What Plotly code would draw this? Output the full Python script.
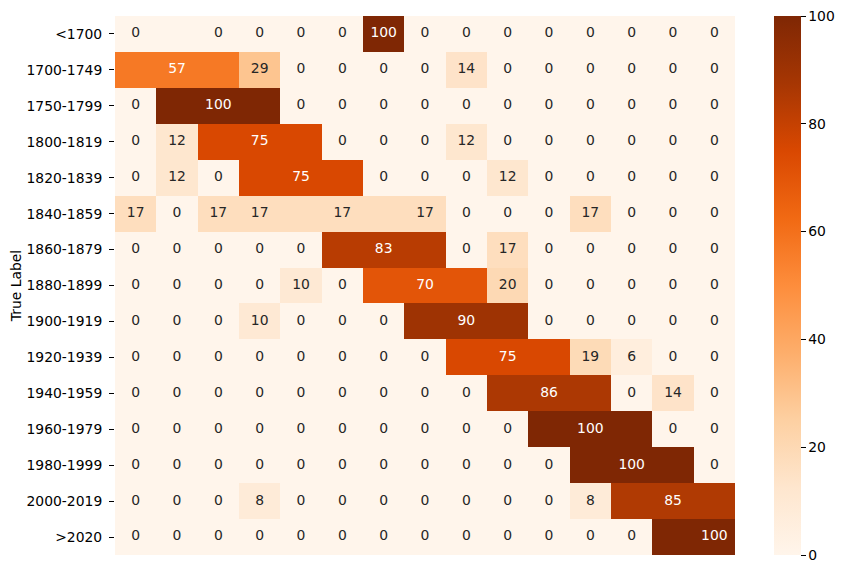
import plotly.graph_objects as go

ROW_LABELS = ['<1700', '1700-1749', '1750-1799', '1800-1819', '1820-1839', '1840-1859',
              '1860-1879', '1880-1899', '1900-1919', '1920-1939', '1940-1959',
              '1960-1979', '1980-1999', '2000-2019', '>2020']

# cell colour values (percent), one list per true-label row
CELL_VALUES = [
    [0, 0, 0, 0, 0, 0, 100, 0, 0, 0, 0, 0, 0, 0, 0],
    [57, 57, 57, 29, 0, 0, 0, 0, 14, 0, 0, 0, 0, 0, 0],
    [0, 100, 100, 100, 0, 0, 0, 0, 0, 0, 0, 0, 0, 0, 0],
    [0, 12, 75, 75, 75, 0, 0, 0, 12, 0, 0, 0, 0, 0, 0],
    [0, 12, 0, 75, 75, 75, 0, 0, 0, 12, 0, 0, 0, 0, 0],
    [17, 0, 17, 17, 17, 17, 17, 17, 0, 0, 0, 17, 0, 0, 0],
    [0, 0, 0, 0, 0, 83, 83, 83, 0, 17, 0, 0, 0, 0, 0],
    [0, 0, 0, 0, 10, 0, 70, 70, 70, 20, 0, 0, 0, 0, 0],
    [0, 0, 0, 10, 0, 0, 0, 90, 90, 90, 0, 0, 0, 0, 0],
    [0, 0, 0, 0, 0, 0, 0, 0, 75, 75, 75, 19, 6, 0, 0],
    [0, 0, 0, 0, 0, 0, 0, 0, 0, 86, 86, 86, 0, 14, 0],
    [0, 0, 0, 0, 0, 0, 0, 0, 0, 0, 100, 100, 100, 0, 0],
    [0, 0, 0, 0, 0, 0, 0, 0, 0, 0, 0, 100, 100, 100, 0],
    [0, 0, 0, 8, 0, 0, 0, 0, 0, 0, 0, 8, 85, 85, 85],
    [0, 0, 0, 0, 0, 0, 0, 0, 0, 0, 0, 0, 0, 100, 100],
]

# annotation texts as printed in the cells ('' = no label shown)
CELL_TEXT = [
    ['0', '', '0', '0', '0', '0', '100', '0', '0', '0', '0', '0', '0', '0', '0'],
    ['', '57', '', '29', '0', '0', '0', '0', '14', '0', '0', '0', '0', '0', '0'],
    ['0', '', '100', '', '0', '0', '0', '0', '0', '0', '0', '0', '0', '0', '0'],
    ['0', '12', '', '75', '', '0', '0', '0', '12', '0', '0', '0', '0', '0', '0'],
    ['0', '12', '0', '', '75', '', '0', '0', '0', '12', '0', '0', '0', '0', '0'],
    ['17', '0', '17', '17', '', '17', '', '17', '0', '0', '0', '17', '0', '0', '0'],
    ['0', '0', '0', '0', '0', '', '83', '', '0', '17', '0', '0', '0', '0', '0'],
    ['0', '0', '0', '0', '10', '0', '', '70', '', '20', '0', '0', '0', '0', '0'],
    ['0', '0', '0', '10', '0', '0', '0', '', '90', '', '0', '0', '0', '0', '0'],
    ['0', '0', '0', '0', '0', '0', '0', '0', '', '75', '', '19', '6', '0', '0'],
    ['0', '0', '0', '0', '0', '0', '0', '0', '0', '', '86', '', '0', '14', '0'],
    ['0', '0', '0', '0', '0', '0', '0', '0', '0', '0', '', '100', '', '0', '0'],
    ['0', '0', '0', '0', '0', '0', '0', '0', '0', '0', '0', '', '100', '', '0'],
    ['0', '0', '0', '8', '0', '0', '0', '0', '0', '0', '0', '8', '', '85', ''],
    ['0', '0', '0', '0', '0', '0', '0', '0', '0', '0', '0', '0', '0', '', '100'],
]

n = len(ROW_LABELS)
cols = list(range(n))
rows = list(range(n))
FONT = 'DejaVu Sans'
FS = 13.9
DARK = '#262626'

fig = go.Figure()
fig.add_trace(go.Heatmap(
    z=CELL_VALUES, x=cols, y=rows,
    colorscale='Oranges', zmin=0, zmax=100,
    hoverinfo='skip',
    colorbar=dict(
        x=(774 - 115) / 620, xanchor='left', xpad=0,
        y=0.5, yanchor='middle', len=1, lenmode='fraction', ypad=0,
        thickness=27, outlinewidth=0,
        tickmode='array', tickvals=[0, 20, 40, 60, 80, 100],
        ticktext=['0', '20', '40', '60', '80', '100'],
        ticklabeloverflow='allow',
        ticks='outside', ticklen=5,
        tickcolor='black', tickfont=dict(family=FONT, size=FS, color='black'),
    ),
))

# cell labels
tx, ty, tt, tc = [], [], [], []
for r in rows:
    for c in cols:
        if CELL_TEXT[r][c] != '':
            tx.append(c)
            ty.append(r)
            tt.append(CELL_TEXT[r][c])
            tc.append('white' if CELL_VALUES[r][c] > 45 else DARK)

fig.add_trace(go.Scatter(
    x=tx, y=ty, text=tt, mode='text',
    textfont=dict(family=FONT, size=FS, color=tc),
    showlegend=False, hoverinfo='skip', cliponaxis=False,
))

# page body has an 8px offset, so margins are shifted accordingly
fig.update_layout(
    width=847, height=573,
    margin=dict(l=107, r=120, t=8, b=26, autoexpand=False),
    paper_bgcolor='white', plot_bgcolor='white',
    font=dict(family=FONT, size=FS, color='black'),
    xaxis=dict(range=[-0.5, n - 0.5], showticklabels=False, showgrid=False,
               zeroline=False, ticks=''),
    yaxis=dict(range=[n - 0.5, -0.5], tickvals=rows, ticktext=ROW_LABELS,
               ticks='outside', ticklen=5, tickcolor='black', showgrid=False,
               zeroline=False, ticklabelstandoff=4,
               title=dict(text='True Label', standoff=8,
                          font=dict(family=FONT, size=FS, color='black'))),
)

fig.write_html('out.html')
